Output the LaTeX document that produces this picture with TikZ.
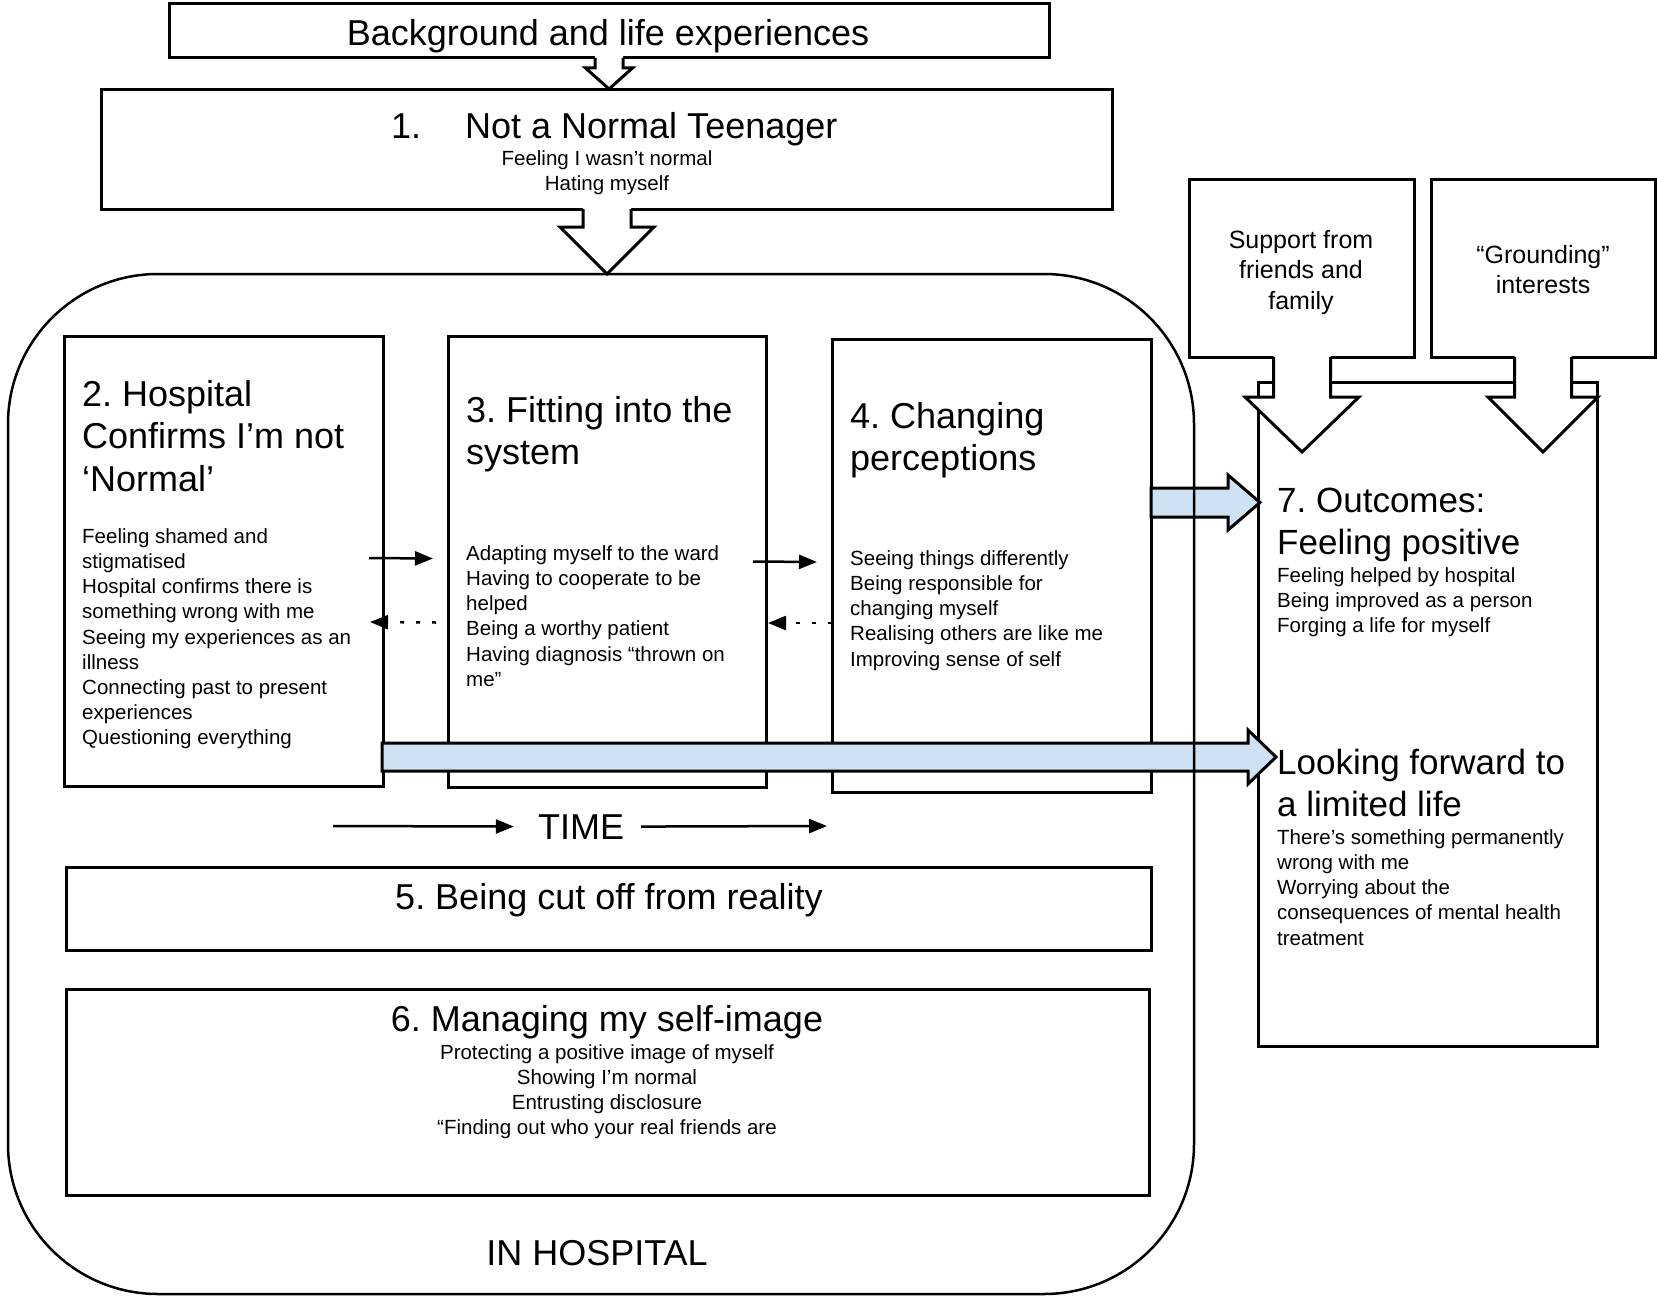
\documentclass[tikz,border=0pt]{standalone}
\usepackage{fontspec}
\setmainfont{Liberation Sans}
\usetikzlibrary{arrows.meta}
\definecolor{arrowblue}{RGB}{207,226,243}
\frenchspacing
\newcommand\dnblock[6]{%
 \fill[white] ({#1-#3},{#2-3}) -- ({#1-#3},#5) -- ({#1-#4},#5) -- (#1,#6) -- ({#1+#4},#5) -- ({#1+#3},#5) -- ({#1+#3},{#2-3}) -- cycle;
 \draw[line width=3pt, line join=miter] ({#1-#3},#2) -- ({#1-#3},#5) -- ({#1-#4},#5) -- (#1,#6) -- ({#1+#4},#5) -- ({#1+#3},#5) -- ({#1+#3},#2);}
\begin{document}
\frenchspacing
\begin{tikzpicture}[x=1pt,y=-1pt,
  box/.style={draw, line width=3pt, fill=white, inner sep=0pt, outer sep=0pt, anchor=north west},
  ttl/.style={font=\fontsize{36}{42.5}\selectfont, align=left, inner sep=0pt, anchor=north west},
  ttlb/.style={font=\fontsize{35}{42.5}\selectfont, align=left, inner sep=0pt, anchor=north west},
  bod/.style={font=\fontsize{20.5}{25.2}\selectfont, align=left, inner sep=0pt, anchor=north west},
  cbod/.style={font=\fontsize{20.5}{25.2}\selectfont, align=center, inner sep=0pt, anchor=north},
  big/.style={font=\fontsize{36}{42.5}\selectfont, inner sep=0pt, anchor=base},
  side/.style={font=\fontsize{25}{30.5}\selectfont, align=center, inner sep=0pt, anchor=north},
  thinarr/.style={line width=2.5pt, -{Triangle[length=18pt,width=14pt]}},
  dotarr/.style={line width=2.5pt, dash pattern=on 4pt off 12pt, -{Triangle[length=18pt,width=14pt]}},
  bluearr/.style={draw, line width=3pt, fill=arrowblue, line join=miter},
]
\fill[white] (0,0) rectangle (1657,1298);
\useasboundingbox (0,0) rectangle (1657,1298);

% top boxes
\node[box, minimum width=880pt, minimum height=54pt] (bg) at (169,4) {};
\node[big] (bgt) at (608,46) {Background and life experiences};
\node[box, minimum width=1011pt, minimum height=120pt] (b1) at (101,89) {};
\node[big, anchor=base west] (t1) at (391,138) {1.\hspace{44pt}Not a Normal Teenager};
\node[cbod] (s1) at (607,147.4) {\strut Feeling I wasn’t normal\\Hating myself};
\dnblock{609}{58}{14}{23.5}{68}{89}
\dnblock{607}{209}{24}{47}{227}{274}

% inner boxes
\node[box, minimum width=319pt, minimum height=450pt] (b2) at (64,336) {};
\node[box, minimum width=318pt, minimum height=451pt] (b3) at (448,336) {};
\node[box, minimum width=319pt, minimum height=453pt] (b4) at (832,339) {};
\node[box, minimum width=1085pt, minimum height=83pt] (b5) at (66,867) {};
\node[box, minimum width=1083pt, minimum height=206pt] (b6) at (66,989) {};

\node[ttl] (t2) at (82,376.25) {\strut 2. Hospital\\Confirms I’m not\\‘Normal’};
\node[bod] (s2) at (82,525.4) {\strut Feeling shamed and\\stigmatised\\Hospital confirms there is\\something wrong with me\\Seeing my experiences as an\\illness\\Connecting past to present\\experiences\\Questioning everything};
\node[ttl] (t3) at (466,392.25) {\strut 3. Fitting into the\\system};
\node[bod] (s3) at (466,542.4) {\strut Adapting myself to the ward\\Having to cooperate to be\\helped\\Being a worthy patient\\Having diagnosis “thrown on\\me”};
\node[ttl] (t4) at (850,398.25) {\strut 4. Changing\\perceptions};
\node[bod] (s4) at (850,547.4) {\strut Seeing things differently\\Being responsible for\\changing myself\\Realising others are like me\\Improving sense of self};

\node[big] (t5) at (609,909) {5. Being cut off from reality};
\node[big] (t6) at (607,1031) {6. Managing my self-image};
\node[cbod] (s6) at (607,1041.4) {\strut Protecting a positive image of myself\\Showing I’m normal\\Entrusting disclosure\\“Finding out who your real friends are};

% small arrows between stages
\draw[thinarr] ([xshift=-14pt,yshift=3pt]b2.east) -- ([xshift=-15pt,yshift=3pt]b3.west);
\draw[dotarr] ([xshift=-12pt,yshift=-61pt]b3.west) -- ([xshift=-13pt,yshift=-61pt]b2.east);
\draw[thinarr] ([xshift=-13pt]b3.east) -- ([xshift=-15pt,yshift=3.5pt]b4.west);
\draw[dotarr] ([yshift=-57.5pt]b4.west) -- ([xshift=2pt,yshift=-61.5pt]b3.east);

% time
\node[big] (time) at (581,839) {TIME};
\coordinate (tl) at (333,826);
\coordinate (tr) at (827,826);
\draw[thinarr, shorten >=24pt] (tl) -- (time.west);
\draw[thinarr, shorten <=17pt] (time.east) -- (tr);

% outcome box
\node[box, minimum width=339pt, minimum height=664pt] (b7) at (1258,382) {};
\node[ttlb] (t7a) at (1277,482.25) {\strut 7. Outcomes:\\Feeling positive};
\node[bod] (s7a) at (1277,564.4) {\strut Feeling helped by hospital\\Being improved as a person\\Forging a life for myself};
\node[ttlb] (t7b) at (1277,744.25) {\strut Looking forward to\\a limited life};
\node[bod] (s7b) at (1277,826.4) {\strut There’s something permanently\\wrong with me\\Worrying about the\\consequences of mental health\\treatment};

% side boxes
\node[box, minimum width=225pt, minimum height=178pt] (sup) at (1189,179) {};
\node[side] (supt) at (1301,226.65) {\strut Support from\\friends and\\family};
\node[box, minimum width=224pt, minimum height=178pt] (gro) at (1431,179) {};
\node[side] (grot) at (1543,241.65) {\strut “Grounding”\\interests};
\dnblock{1302}{357}{28.5}{57}{397}{452}
\dnblock{1543}{357}{28.5}{55}{397}{452}

% blue arrows
\filldraw[bluearr] (1151,488) -- (1228,488) -- (1228,475) -- (1260,502.5) -- (1228,530) -- (1228,517) -- (1151,517) -- cycle;
\filldraw[bluearr] (382,743) -- (1248,743) -- (1248,730) -- (1276,757) -- (1248,784) -- (1248,771) -- (382,771) -- cycle;

% hospital frame
\node[draw, line width=2.5pt, rounded corners=150pt, minimum width=1186pt, minimum height=1020pt, inner sep=0pt, outer sep=0pt, anchor=north west] (hosp) at (8,274) {};
\node[big] (hospt) at (597,1265) {IN HOSPITAL};
\end{tikzpicture}
\end{document}
